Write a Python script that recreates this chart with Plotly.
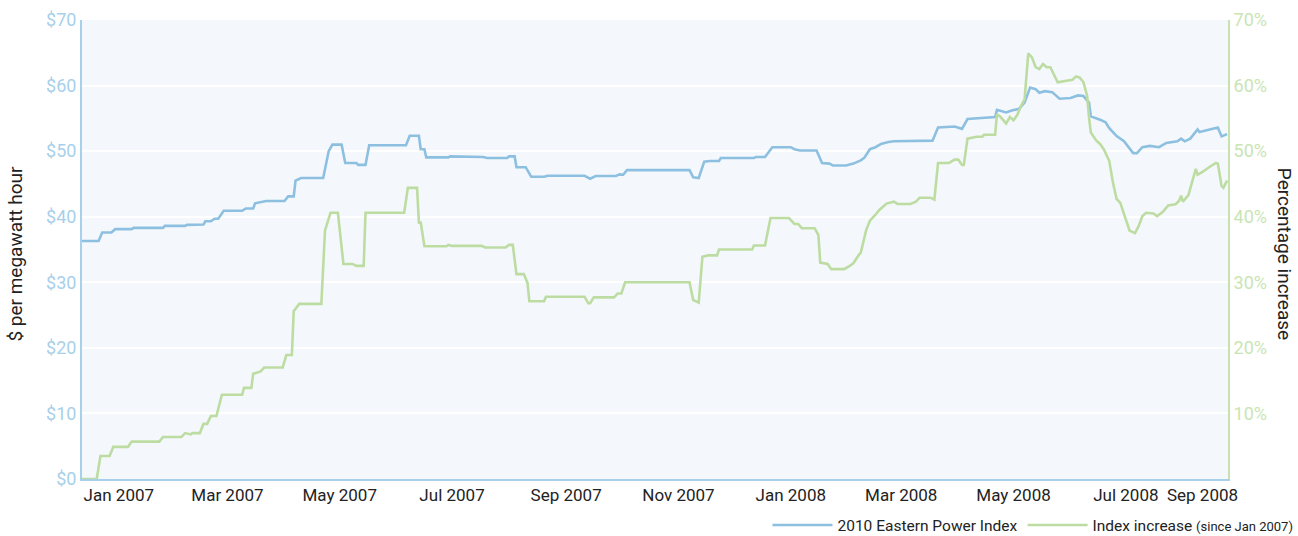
import pandas as pd
import plotly.graph_objects as go

# ---- data ----
blue_dates = [
    "2006-12-12", "2006-12-21", "2006-12-23", "2006-12-28", "2006-12-30", "2007-01-08", "2007-01-09",
    "2007-01-25", "2007-01-26", "2007-02-06", "2007-02-07", "2007-02-12", "2007-02-16", "2007-02-17",
    "2007-02-20", "2007-02-22", "2007-02-24", "2007-02-27", "2007-03-09", "2007-03-11", "2007-03-15",
    "2007-03-16", "2007-03-19", "2007-03-22", "2007-04-01", "2007-04-03", "2007-04-06", "2007-04-07",
    "2007-04-10", "2007-04-22", "2007-04-25", "2007-04-27", "2007-05-02", "2007-05-04", "2007-05-10",
    "2007-05-11", "2007-05-15", "2007-05-17", "2007-06-06", "2007-06-08", "2007-06-13", "2007-06-14",
    "2007-06-16", "2007-06-17", "2007-06-29", "2007-06-30", "2007-07-18", "2007-07-20", "2007-07-31",
    "2007-08-01", "2007-08-04", "2007-08-05", "2007-08-10", "2007-08-13", "2007-08-20", "2007-08-22",
    "2007-09-11", "2007-09-14", "2007-09-17", "2007-09-28", "2007-09-30", "2007-10-02", "2007-10-04",
    "2007-11-07", "2007-11-09", "2007-11-12", "2007-11-15", "2007-11-18", "2007-11-23", "2007-11-24",
    "2007-12-12", "2007-12-13", "2007-12-18", "2007-12-22", "2008-01-01", "2008-01-03", "2008-01-06",
    "2008-01-15", "2008-01-18", "2008-01-22", "2008-01-24", "2008-01-31", "2008-02-04", "2008-02-08",
    "2008-02-10", "2008-02-13", "2008-02-16", "2008-02-19", "2008-02-23", "2008-02-26", "2008-03-18",
    "2008-03-21", "2008-03-30", "2008-04-03", "2008-04-06", "2008-04-21", "2008-04-22", "2008-04-27",
    "2008-04-30", "2008-05-04", "2008-05-07", "2008-05-10", "2008-05-13", "2008-05-15", "2008-05-18",
    "2008-05-22", "2008-05-26", "2008-06-01", "2008-06-05", "2008-06-08", "2008-06-11", "2008-06-12",
    "2008-06-17", "2008-06-20", "2008-06-22", "2008-06-26", "2008-06-30", "2008-07-05", "2008-07-07",
    "2008-07-10", "2008-07-14", "2008-07-19", "2008-07-23", "2008-07-29", "2008-07-31", "2008-08-02",
    "2008-08-05", "2008-08-09", "2008-08-10", "2008-08-15", "2008-08-20", "2008-08-22", "2008-08-25",
]
blue_values = [
    36.3, 36.3, 37.6, 37.6, 38.1, 38.1, 38.3,
    38.3, 38.6, 38.6, 38.75, 38.8, 38.8, 39.3,
    39.3, 39.7, 39.7, 40.9, 40.9, 41.25, 41.25,
    42.05, 42.2, 42.4, 42.4, 43.1, 43.1, 45.5,
    45.9, 45.9, 50.0, 51.0, 51.0, 48.2, 48.2,
    47.9, 47.9, 50.9, 50.9, 52.35, 52.35, 50.3,
    50.3, 49.05, 49.05, 49.2, 49.1, 48.95, 48.95,
    49.2, 49.2, 47.55, 47.55, 46.1, 46.1, 46.25,
    46.25, 45.8, 46.2, 46.2, 46.45, 46.4, 47.1,
    47.1, 46.0, 45.9, 48.4, 48.5, 48.5, 48.95,
    48.95, 49.1, 49.1, 50.6, 50.6, 50.3, 50.1,
    50.1, 48.2, 48.1, 47.8, 47.8, 48.1, 48.6,
    49.0, 50.3, 50.6, 51.1, 51.4, 51.5, 51.6,
    53.6, 53.75, 53.4, 54.9, 55.2, 56.3, 55.9,
    56.2, 56.45, 57.4, 59.7, 59.45, 58.9, 59.15,
    59.0, 58.0, 58.1, 58.5, 58.4, 57.4, 55.3,
    54.8, 54.4, 53.5, 52.3, 51.5, 49.7, 49.7,
    50.6, 50.8, 50.6, 51.25, 51.5, 51.9, 51.5,
    51.9, 53.3, 52.9, 53.3, 53.6, 52.25, 52.6,
]

green_dates = [
    "2006-12-12", "2006-12-20", "2006-12-22", "2006-12-27", "2006-12-29", "2007-01-06", "2007-01-08",
    "2007-01-23", "2007-01-25", "2007-02-04", "2007-02-06", "2007-02-09", "2007-02-10", "2007-02-14",
    "2007-02-16", "2007-02-18", "2007-02-20", "2007-02-23", "2007-02-26", "2007-03-09", "2007-03-10",
    "2007-03-14", "2007-03-15", "2007-03-19", "2007-03-21", "2007-03-31", "2007-04-02", "2007-04-05",
    "2007-04-06", "2007-04-09", "2007-04-21", "2007-04-23", "2007-04-26", "2007-04-30", "2007-05-03",
    "2007-05-08", "2007-05-10", "2007-05-14", "2007-05-15", "2007-06-05", "2007-06-07", "2007-06-12",
    "2007-06-13", "2007-06-14", "2007-06-16", "2007-06-28", "2007-06-29", "2007-07-01", "2007-07-17",
    "2007-07-19", "2007-07-30", "2007-08-01", "2007-08-03", "2007-08-05", "2007-08-09", "2007-08-11",
    "2007-08-12", "2007-08-20", "2007-08-21", "2007-09-11", "2007-09-13", "2007-09-14", "2007-09-16",
    "2007-09-27", "2007-09-29", "2007-10-01", "2007-10-03", "2007-11-07", "2007-11-09", "2007-11-12",
    "2007-11-14", "2007-11-17", "2007-11-22", "2007-11-23", "2007-12-11", "2007-12-12", "2007-12-18",
    "2007-12-21", "2007-12-31", "2008-01-03", "2008-01-05", "2008-01-07", "2008-01-14", "2008-01-16",
    "2008-01-17", "2008-01-21", "2008-01-23", "2008-01-30", "2008-02-02", "2008-02-04", "2008-02-07",
    "2008-02-08", "2008-02-11", "2008-02-13", "2008-02-16", "2008-02-18", "2008-02-22", "2008-02-26",
    "2008-02-28", "2008-03-06", "2008-03-09", "2008-03-11", "2008-03-17", "2008-03-19", "2008-03-21",
    "2008-03-27", "2008-03-30", "2008-04-01", "2008-04-03", "2008-04-04", "2008-04-06", "2008-04-11",
    "2008-04-14", "2008-04-15", "2008-04-21", "2008-04-22", "2008-04-24", "2008-04-27", "2008-04-29",
    "2008-05-01", "2008-05-03", "2008-05-05", "2008-05-07", "2008-05-08", "2008-05-09", "2008-05-11",
    "2008-05-13", "2008-05-15", "2008-05-17", "2008-05-19", "2008-05-21", "2008-05-25", "2008-05-29",
    "2008-05-31", "2008-06-02", "2008-06-04", "2008-06-06", "2008-06-08", "2008-06-10", "2008-06-11",
    "2008-06-12", "2008-06-15", "2008-06-17", "2008-06-19", "2008-06-22", "2008-06-24", "2008-06-26",
    "2008-06-28", "2008-07-01", "2008-07-03", "2008-07-06", "2008-07-08", "2008-07-10", "2008-07-12",
    "2008-07-16", "2008-07-18", "2008-07-21", "2008-07-24", "2008-07-28", "2008-07-30", "2008-07-31",
    "2008-08-01", "2008-08-04", "2008-08-08", "2008-08-09", "2008-08-12", "2008-08-16", "2008-08-19",
    "2008-08-20", "2008-08-22", "2008-08-23", "2008-08-25",
]
green_values = [
    0.0, 0.0, 3.5, 3.5, 4.9, 4.9, 5.7,
    5.7, 6.4, 6.4, 7.0, 6.8, 7.0, 7.0,
    8.4, 8.4, 9.6, 9.6, 12.85, 12.85, 13.9,
    13.9, 16.05, 16.4, 17.0, 17.0, 18.9, 18.9,
    25.6, 26.7, 26.7, 37.9, 40.6, 40.6, 32.8,
    32.8, 32.5, 32.5, 40.6, 40.6, 44.4, 44.4,
    39.1, 39.1, 35.5, 35.5, 35.7, 35.55, 35.55,
    35.3, 35.3, 35.7, 35.7, 31.25, 31.25, 29.9,
    27.1, 27.1, 27.8, 27.8, 26.8, 26.8, 27.7,
    27.7, 28.3, 28.3, 30.0, 30.0, 27.3, 26.9,
    33.9, 34.1, 34.1, 35.0, 35.0, 35.6, 35.6,
    39.8, 39.8, 38.9, 38.9, 38.25, 38.25, 37.2,
    33.0, 32.8, 32.0, 32.0, 32.5, 32.9, 34.2,
    34.5, 38.0, 39.4, 40.3, 41.0, 42.0, 42.3,
    41.95, 41.95, 42.3, 42.9, 42.9, 42.6, 48.2,
    48.2, 48.7, 48.7, 47.9, 47.9, 51.9, 52.2,
    52.2, 52.5, 52.5, 55.6, 55.2, 54.2, 55.2,
    54.7, 55.5, 56.85, 57.9, 61.4, 64.9, 64.3,
    62.8, 62.5, 63.3, 62.8, 62.8, 60.5, 60.7,
    60.9, 60.9, 61.4, 61.2, 60.5, 58.4, 55.1,
    52.85, 51.6, 51.1, 50.3, 48.5, 45.2, 42.7,
    42.1, 39.7, 37.9, 37.5, 38.6, 40.1, 40.6,
    40.5, 40.1, 40.7, 41.7, 41.9, 42.45, 43.2,
    42.3, 43.3, 47.3, 46.4, 46.9, 47.7, 48.2,
    48.1, 44.7, 44.4, 45.5,
]

left_ticks = [0, 10, 20, 30, 40, 50, 60, 70]
right_ticks = [10, 20, 30, 40, 50, 60, 70]
x_range = ["2006-12-12", "2008-08-25 12:00"]
last_label_date = "2008-09-01"
last_label_text = "Sep 2008"

BLUE = "#8dc0e0"
GREEN = "#bddca2"
BLUE_TXT = "#a8d0ea"
GREEN_TXT = "#c9e5b3"
FONT = "Roboto, sans-serif"

fig = go.Figure()
fig.add_trace(go.Scatter(
    x=blue_dates, y=blue_values, mode="lines", name="2010 Eastern Power Index",
    line=dict(color=BLUE, width=2.6), yaxis="y", hoverinfo="skip",
))
fig.add_trace(go.Scatter(
    x=green_dates, y=green_values, mode="lines",
    name="Index increase <span style='font-size:13px'>(since Jan 2007)</span>",
    line=dict(color=GREEN, width=2.6), yaxis="y2", hoverinfo="skip",
))

r0, r1 = pd.Timestamp(x_range[0]), pd.Timestamp(x_range[1])
last_x_paper = (pd.Timestamp(last_label_date) - r0) / (r1 - r0)

fig.update_layout(
    width=1298, height=536,
    margin=dict(l=82, r=70, t=20, b=57, autoexpand=False),
    paper_bgcolor="white",
    plot_bgcolor="#f4f8fc",
    font=dict(family=FONT, color="#222222"),
    showlegend=True,
    xaxis=dict(
        type="date", range=x_range, tick0="2007-01-01", dtick="M2", tickformat="%b %Y",
        showgrid=False, zeroline=False, showline=True, linecolor="#a9d0ea", linewidth=2,
        ticks="", tickfont=dict(size=17, color="#222222"),
    ),
    yaxis=dict(
        range=[0, 70], tickmode="array", tickvals=left_ticks,
        ticktext=[f"${v}" for v in left_ticks],
        showgrid=True, gridcolor="#ffffff", gridwidth=1.5, zeroline=False,
        showline=True, linecolor="#a9d0ea", linewidth=2,
        ticks="", tickfont=dict(size=18, color=BLUE_TXT),
    ),
    yaxis2=dict(
        range=[0, 70], tickmode="array", tickvals=right_ticks,
        ticktext=[f"{v}%" for v in right_ticks], overlaying="y", side="right",
        showgrid=False, zeroline=False, showline=True, linecolor="#c6e2ae", linewidth=2,
        ticks="", tickfont=dict(size=18, color=GREEN_TXT),
    ),
    legend=dict(
        orientation="h", x=1.0615, xanchor="right", y=-0.064, yanchor="top",
        font=dict(size=15.5, color="#222222"), bgcolor="rgba(0,0,0,0)", itemwidth=60,
        traceorder="normal",
    ),
    annotations=[
        dict(text="$ per megawatt hour", textangle=-90, xref="paper", yref="paper",
             x=-0.058, y=0.49, xanchor="center", showarrow=False,
             font=dict(size=19, color="#222222")),
        dict(text="Percentage increase", textangle=90, xref="paper", yref="paper",
             x=1.05, y=0.49, xanchor="center", showarrow=False,
             font=dict(size=19, color="#222222")),
        dict(text=last_label_text, xref="paper", yref="paper", x=last_x_paper, y=0,
             yanchor="top", yshift=-4, showarrow=False, font=dict(size=17, color="#222222")),
    ],
)

fig.write_html("out.html")
